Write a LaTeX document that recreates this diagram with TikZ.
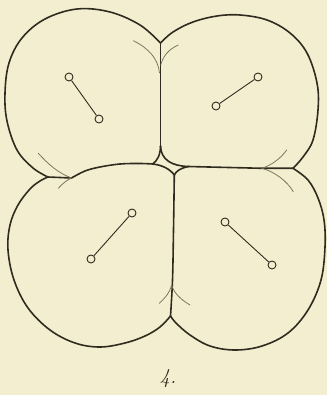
\documentclass[tikz,border=0pt]{standalone}
\definecolor{paper}{RGB}{244,238,208}
\definecolor{ink}{RGB}{48,43,31}
\definecolor{inkfaint}{RGB}{120,113,90}
\begin{document}
\begin{tikzpicture}[x=1pt,y=-1pt,
  wall/.style={draw=ink, line width=1.6pt, line join=round, line cap=round},
  faint/.style={draw=inkfaint, line width=0.75pt, line cap=round},
  nucleus/.style={circle, draw=ink, line width=0.9pt, inner sep=0pt, minimum size=8pt, fill=paper},
  spindle/.style={draw=ink, line width=0.9pt}]
\fill[paper] (0,0) rectangle (327,395);
\useasboundingbox (0,0) rectangle (327,395);

% junction points
\coordinate (T) at (160.5,43);
\coordinate (L1) at (48,177);
\coordinate (L2) at (71.5,178);
\coordinate (R1) at (262,168.3);
\coordinate (R2) at (293,168.3);
\coordinate (B) at (170.5,316);
\coordinate (CT) at (160.5,146);
\coordinate (CL) at (152.7,164);
\coordinate (CR) at (188.3,166.5);
\coordinate (CB) at (174.3,175);

% outer outlines of the four cells
\draw[wall] plot[smooth, tension=0.6] coordinates {(48,177) (33,168) (17,150) (7,121) (5,93) (9,63) (22,38) (45,19) (77,9) (110,12) (140,25) (160.5,43)};
\draw[wall] plot[smooth, tension=0.6] coordinates {(160.5,43) (173,32) (193,22) (217,16) (240,15) (267,20) (290,33) (307,53) (317,83) (318,110) (313,140) (303,157) (293,168.3)};
\draw[wall] plot[smooth, tension=0.6] coordinates {(293,168.3) (308,180) (318,198) (324,220) (325,247) (321,280) (308,310) (288,333) (262,346) (235,350) (210,346) (190,335) (176,323) (170.5,316)};
\draw[wall] plot[smooth, tension=0.6] coordinates {(170.5,316) (160,327) (145,336) (125,343) (100,347) (75,343) (50,330) (28,308) (14,280) (8,250) (10,225) (18,205) (30,189) (40,181) (48,177)};

% inner walls
\draw[wall] (T) -- (CT);
\draw[wall] (CT) .. controls (160.5,155) and (157,161) .. (CL);
\draw[wall] (CT) .. controls (161,160) and (172,166) .. (CR);
\draw[wall] plot[smooth, tension=0.6] coordinates {(71.5,178) (85,171) (100,167) (120,164) (140,163.5) (152.7,164)};
\draw[wall] (L1) -- (L2);
\draw[wall] (CL) .. controls (162,165) and (170,169) .. (CB);
\draw[wall] (CR) .. controls (181,168) and (176,171) .. (CB);
\draw[wall] plot[smooth, tension=0.6] coordinates {(174.3,175) (173.5,230) (172.5,280) (170.5,316)};
\draw[wall] (CR) -- (R1) -- (R2);

% faint overlapping contours at the furrows
\draw[faint] (133.3,40.7) .. controls (148,48) and (158,58) .. (159.5,73);
\draw[faint] (178.3,45) .. controls (169,49) and (163,56) .. (160.7,65);
\draw[faint] (38.3,153.3) .. controls (48,164) and (58,173) .. (L2);
\draw[faint] (L2) .. controls (67,180) and (62,184) .. (58.3,188.3);
\draw[faint] (286.7,150) .. controls (281,158) and (272,165) .. (R1);
\draw[faint] (R1) .. controls (275,172) and (287,181) .. (293.3,191.7);
\draw[faint] (159.3,303.3) .. controls (166,297) and (170,292) .. (171.7,285);
\draw[faint] (190,305) .. controls (180,299) and (174,293) .. (171.7,285);

% nuclear spindles
\node[nucleus] (tla) at (69,77) {};
\node[nucleus] (tlb) at (99,119) {};
\node[nucleus] (tra) at (258,77) {};
\node[nucleus] (trb) at (216,106) {};
\node[nucleus] (bla) at (132,213) {};
\node[nucleus] (blb) at (91,259) {};
\node[nucleus] (bra) at (225,222) {};
\node[nucleus] (brb) at (272,265) {};
\draw[spindle] (tla) -- (tlb);
\draw[spindle] (tra) -- (trb);
\draw[spindle] (bla) -- (blb);
\draw[spindle] (bra) -- (brb);

% figure number
\node[text=ink, font=\fontsize{21}{24}\selectfont\itshape] (caption) at (168,379) {4.};
\end{tikzpicture}
\end{document}
